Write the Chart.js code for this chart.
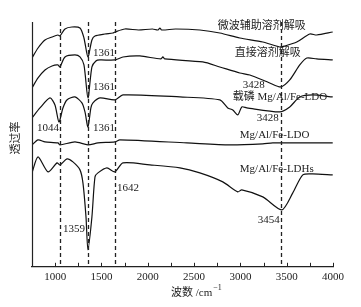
<!DOCTYPE html>
<html lang="zh">
  <head>
    <meta charset="utf-8" />
    <title>FTIR spectra</title>
    <style>
      * {
        margin: 0;
        padding: 0;
      }
      body {
        background: #fff;
      }
    </style>
  </head>
  <body>
    <canvas id="myChart" width="361" height="307"></canvas>
    <script src="https://cdn.jsdelivr.net/npm/chart.js"></script>
    <script>
      // setup - wavenumbers (cm-1) and transmittance (a.u., offset traces)
      const wnMicro = [750, 815, 890, 966, 1030, 1052, 1106, 1181, 1268, 1311, 1354, 1397, 1430, 1537, 1624, 1645, 1753, 1900, 2050, 2110, 2131, 2150, 2300, 2562, 2778, 2994, 3242, 3425, 3479, 3609, 3749, 3824, 3997];
      const tMicro = [209, 219, 227, 230, 232, 231, 238, 240, 239, 229, 210, 227, 231, 233, 234, 235, 238, 237, 238, 237, 239, 237, 238, 237, 234, 229, 225, 220, 221, 225, 233, 232, 235];

      const wnDirect = [750, 815, 890, 966, 1030, 1052, 1106, 1214, 1268, 1311, 1354, 1397, 1440, 1483, 1645, 1732, 1915, 2140, 2163, 2185, 2594, 2778, 2994, 3102, 3317, 3436, 3533, 3641, 3717, 3824, 3997];
      const tDirect = [179, 189, 197, 201, 202, 200, 210, 212, 210, 202, 169, 200, 206, 207, 207, 210, 211, 208, 210, 208, 205, 200, 194, 192, 184, 180, 187, 202, 209, 208, 207];

      const wnLoaded = [750, 836, 944, 998, 1041, 1084, 1127, 1214, 1289, 1322, 1354, 1386, 1408, 1483, 1645, 1732, 2347, 2778, 2864, 2918, 2972, 3015, 3069, 3425, 3533, 3641, 3781, 3997];
      const tLoaded = [149, 159, 169, 162, 145, 159, 167, 170, 164, 155, 140, 159, 164, 169, 167, 172, 170, 167, 159, 157, 152, 160, 159, 155, 160, 170, 172, 170];

      const wnLDO = [750, 815, 890, 1030, 1052, 1214, 1354, 1462, 1645, 1699, 2422, 2886, 3242, 3350, 3997];
      const tLDO = [122, 127, 125, 124, 122, 125, 122, 124, 125, 127, 124, 122, 123, 124, 124];

      const wnLDH = [750, 815, 923, 1020, 1052, 1128, 1192, 1268, 1300, 1333, 1354, 1397, 1430, 1462, 1559, 1645, 1732, 2023, 2347, 2562, 2810, 2972, 3015, 3242, 3447, 3566, 3674, 3781, 3997];
      const tLDH = [94, 110, 95, 104, 102, 108, 105, 97, 84, 50, 17, 50, 90, 94, 99, 95, 104, 102, 99, 94, 85, 75, 77, 70, 57, 74, 92, 93, 92];

      const dashedWn = [1050, 1358, 1642, 3440];

      // annotation text: [text, wavenumber at left edge, transmittance at middle]
      const notes = [
        ['微波辅助溶剂解吸', 2756, 241],
        ['直接溶剂解吸', 2940, 214],
        ['3428', 3026, 182],
        ['载磷 Mg/Al/Fe-LDO', 2918, 170],
        ['3428', 3177, 149],
        ['Mg/Al/Fe-LDO', 2994, 132],
        ['Mg/Al/Fe-LDHs', 2994, 98],
        ['3454', 3188, 47],
        ['1361', 1408, 214],
        ['1361', 1408, 180],
        ['1361', 1408, 139],
        ['1044', 804, 139],
        ['1642', 1667, 79],
        ['1359', 1084, 38],
      ];

      const pts = (xs, ys) => xs.map((x, i) => ({ x: x, y: ys[i] }));
      const lineStyle = {
        borderColor: '#111',
        borderWidth: 1.2,
        pointRadius: 0,
        tension: 0.25,
        fill: false,
      };

      const serif = '"Liberation Serif", "Noto Sans CJK SC", serif';

      const extras = {
        id: 'extras',
        afterDraw(chart) {
          const ctx = chart.ctx;
          const xs = chart.scales.x;
          const ys = chart.scales.y;
          const { left, right, top, bottom } = chart.chartArea;
          ctx.save();
          ctx.strokeStyle = '#222';
          ctx.lineWidth = 1.2;
          // left axis
          ctx.beginPath();
          ctx.moveTo(left + 0.5, top);
          ctx.lineTo(left + 0.5, bottom);
          ctx.stroke();
          // inward ticks
          ctx.lineWidth = 1;
          for (let w = 1000; w <= 4000; w += 250) {
            const px = Math.round(xs.getPixelForValue(w)) + 0.5;
            ctx.beginPath();
            ctx.moveTo(px, bottom);
            ctx.lineTo(px, bottom - 4);
            ctx.stroke();
          }
          // dashed guides
          ctx.setLineDash([4, 3]);
          ctx.lineWidth = 1.3;
          dashedWn.forEach((w) => {
            const px = Math.round(xs.getPixelForValue(w)) + 0.5;
            ctx.beginPath();
            ctx.moveTo(px, top);
            ctx.lineTo(px, bottom);
            ctx.stroke();
          });
          ctx.setLineDash([]);
          // peak and trace labels
          ctx.fillStyle = '#222';
          ctx.font = '11px ' + serif;
          ctx.textAlign = 'left';
          ctx.textBaseline = 'middle';
          notes.forEach((n) => {
            ctx.fillText(n[0], xs.getPixelForValue(n[1]), ys.getPixelForValue(n[2]));
          });
          // y title
          ctx.save();
          ctx.translate(15, 138);
          ctx.rotate(-Math.PI / 2);
          ctx.textAlign = 'center';
          ctx.font = '11px "Noto Sans CJK SC"';
          ctx.fillText('透过率', 0, 0);
          ctx.restore();
          // x title with superscript
          ctx.textAlign = 'left';
          ctx.font = '11px ' + serif;
          const t1 = '波数 /cm';
          const x0 = 171;
          ctx.fillText(t1, x0, 293);
          const w1 = ctx.measureText(t1).width;
          ctx.font = '8px ' + serif;
          ctx.fillText('\u22121', x0 + w1 + 1, 288);
          ctx.restore();
        },
      };

      // config
      const config = {
        type: 'line',
        data: {
          datasets: [
            { data: pts(wnMicro, tMicro), ...lineStyle },
            { data: pts(wnDirect, tDirect), ...lineStyle },
            { data: pts(wnLoaded, tLoaded), ...lineStyle },
            { data: pts(wnLDO, tLDO), ...lineStyle },
            { data: pts(wnLDH, tLDH), ...lineStyle },
          ],
        },
        options: {
          responsive: false,
          animation: false,
          layout: {
            padding: { left: 32, top: 22, right: 28, bottom: 19 },
          },
          plugins: {
            legend: { display: false },
            tooltip: { enabled: false },
          },
          scales: {
            x: {
              type: 'linear',
              min: 750,
              max: 4000,
              grid: { display: false, drawTicks: false },
              border: { display: true, color: '#222', width: 1.2 },
              ticks: {
                stepSize: 250,
                autoSkip: false,
                maxRotation: 0,
                padding: 4,
                color: '#222',
                font: { family: serif, size: 11 },
                callback: (v) => (v % 500 === 0 && v >= 1000 ? v : ''),
              },
            },
            y: {
              display: false,
              min: 0,
              max: 245,
            },
          },
        },
        plugins: [extras],
      };

      // render init block
      const myChart = new Chart(document.getElementById('myChart'), config);
    </script>
  </body>
</html>
